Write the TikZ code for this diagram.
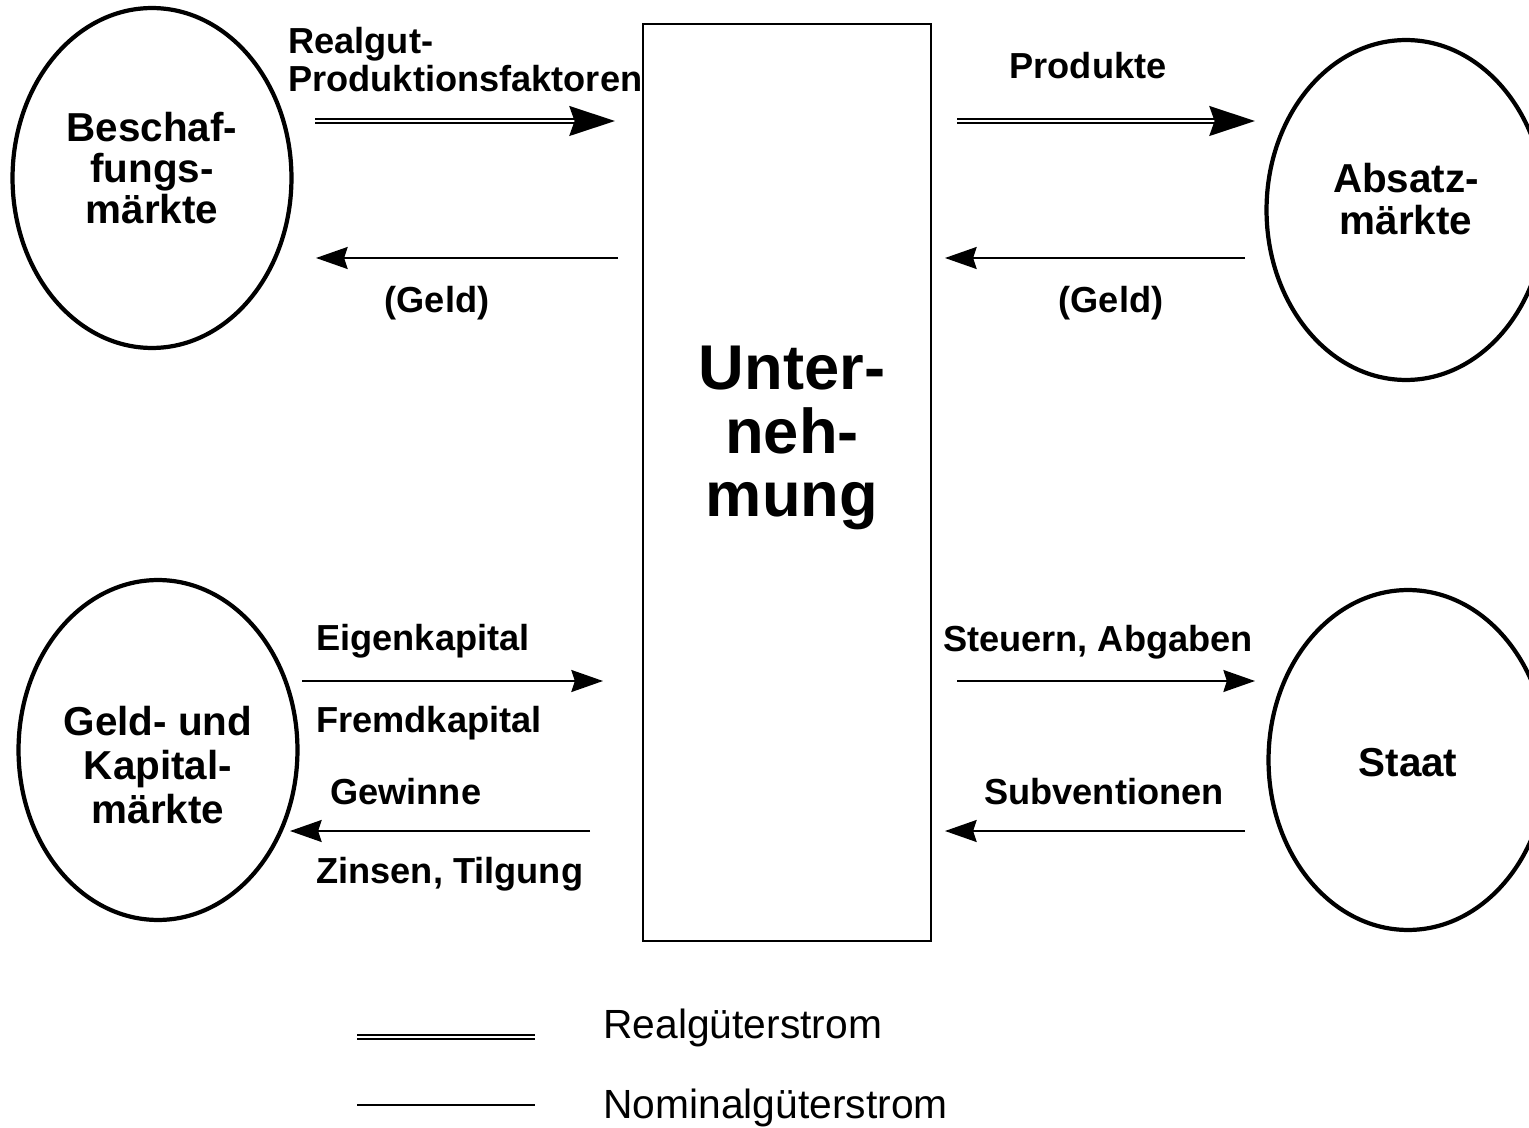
\documentclass[tikz,border=0pt]{standalone}
\usepackage{fontspec}
\setmainfont{Liberation Sans}
\usetikzlibrary{shapes.geometric,arrows.meta}

\begin{document}
\begin{tikzpicture}[x=0.02cm, y=-0.02cm,
  markt/.style={ellipse, draw, line width=2.4pt, minimum width=5.58cm, minimum height=6.8cm, inner sep=0pt},
  markttext/.style={inner sep=0pt, align=center, font=\bfseries\fontsize{23}{23.5}\selectfont},
  fluss/.style={inner sep=0pt, text height=14.7pt, text depth=0pt, font=\bfseries\fontsize{20.6}{22}\selectfont},
  legende/.style={inner sep=0pt, anchor=west, text height=16.5pt, text depth=0pt, font=\fontsize{23.2}{26}\selectfont},
  realline/.style={double, line width=1.2pt, double distance=1.3pt},
  real/.style={realline, -{Stealth[length=26pt, width=17pt, inset=3pt]}},
  nominal/.style={line width=1.1pt, -{Stealth[length=18pt, width=12.5pt, inset=2pt]}}]
  \useasboundingbox (0,0) rectangle (1529,1128);
  \clip (0,0) rectangle (1529,1128);

  \node (bm) [markt, label={[markttext, yshift=0.2cm]center:{Beschaf-\\fungs-\\märkte}}] at (152,178) {};
  \node (am) [markt, label={[markttext, yshift=0.22cm]center:{Absatz-\\märkte}}] at (1406,210) {};
  \node (km) [markt, label={[markttext, yshift=-0.3cm, font=\bfseries\fontsize{23}{25}\selectfont]center:{Geld- und\\Kapital-\\märkte}}] at (158,750) {};
  \node (st) [markt, label={[markttext, yshift=-0.06cm]center:Staat}] at (1408,760) {};

  \node (un) [draw, line width=1.1pt, minimum width=5.76cm, minimum height=18.34cm] at (787,482.5) {};
  \node (unt) [align=center, font=\bfseries\fontsize{36}{36}\selectfont] at (792,438) {Unter-\\neh-\\mung};

  % Realgueterstroeme
  \coordinate (rl1) at (315,121);
  \coordinate (rl2) at (615,121);
  \coordinate (rr1) at (957,121);
  \coordinate (rr2) at (1255,121);
  \draw[real] (rl1) -- (rl2);
  \draw[real] (rr1) -- (rr2);

  % Nominalgueterstroeme
  \coordinate (gl1) at (618,258);
  \coordinate (gl2) at (316,258);
  \coordinate (gr1) at (1245,258);
  \coordinate (gr2) at (945,258);
  \coordinate (ek1) at (302,681);
  \coordinate (ek2) at (603,681);
  \coordinate (gw1) at (590,831);
  \coordinate (gw2) at (290,831);
  \coordinate (sa1) at (957,681);
  \coordinate (sa2) at (1255,681);
  \coordinate (sv1) at (1245,831);
  \coordinate (sv2) at (945,831);
  \draw[nominal] (gl1) -- (gl2);
  \draw[nominal] (gr1) -- (gr2);
  \draw[nominal] (ek1) -- (ek2);
  \draw[nominal] (gw1) -- (gw2);
  \draw[nominal] (sa1) -- (sa2);
  \draw[nominal] (sv1) -- (sv2);

  \node (rpf) [inner sep=0pt, anchor=north west, align=left, font=\bfseries\fontsize{20.6}{21.5}\selectfont] at (288,27) {Realgut-\\Produktionsfaktoren};
  \node (pr) [fluss] at (1088,66) {Produkte};
  \node (gd1) [fluss] at (437,300) {(Geld)};
  \node (gd2) [fluss] at (1111,300) {(Geld)};
  \node (ek) [fluss, anchor=west] at (316,638) {Eigenkapital};
  \node (fk) [fluss, anchor=west] at (316,720) {Fremdkapital};
  \node (gw) [fluss, anchor=west] at (330,792) {Gewinne};
  \node (zt) [fluss, anchor=west] at (316,871) {Zinsen, Tilgung};
  \node (sa) [fluss] at (1098,639) {Steuern, Abgaben};
  \node (sv) [fluss] at (1104,792) {Subventionen};

  % Legende
  \coordinate (lr1) at (357,1037);
  \coordinate (lr2) at (535,1037);
  \coordinate (ln1) at (357,1105);
  \coordinate (ln2) at (535,1105);
  \draw[realline] (lr1) -- (lr2);
  \draw[line width=1.1pt] (ln1) -- (ln2);
  \node (lrt) [legende] at (603,1024) {Realgüterstrom};
  \node (lnt) [legende] at (603,1104) {Nominalgüterstrom};
\end{tikzpicture}
\end{document}
